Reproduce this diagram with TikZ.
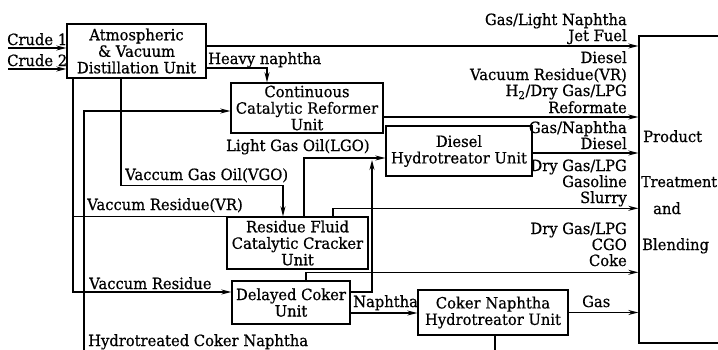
\documentclass[tikz,border=0pt]{standalone}
\usepackage{fontspec}
\setmainfont{DejaVu Serif}[FakeBold=0.6,FakeStretch=0.95]
\usetikzlibrary{arrows.meta,calc}
\newcommand\dgfont{\fontsize{15.5}{16.5}\selectfont}
\begin{document}
\begin{tikzpicture}[x=1pt,y=-1pt,
  box/.style={draw,line width=1.4pt,inner sep=0pt,align=center,font=\dgfont},
  arr/.style={line width=1.3pt,-{Stealth[length=10pt,width=5pt]}},
  ln/.style={line width=1.3pt},
  lab/.style={inner sep=0pt,font=\dgfont},
]
\useasboundingbox (0,0) rectangle (718,349);
% units
\node[box,minimum width=139pt,minimum height=54pt] (atm) at (136.5,51) {Atmospheric\\\& Vacuum\\Distillation Unit};
\node[box,minimum width=152pt,minimum height=50pt] (ccr) at (307,108) {Continuous\\Catalytic Reformer\\Unit};
\node[box,minimum width=146pt,minimum height=50pt] (dht) at (459,151) {Diesel\\Hydrotreator Unit};
\node[box,minimum width=141pt,minimum height=52pt] (rfcc) at (297.5,243) {Residue Fluid\\Catalytic Cracker\\Unit};
\node[box,minimum width=118pt,minimum height=43pt] (dcu) at (291,302.5) {Delayed Coker\\Unit};
\node[box,minimum width=150pt,minimum height=45pt] (cnht) at (493,312.5) {Coker Naphtha\\Hydrotreator Unit};
\node[box,minimum width=100pt,minimum height=307pt] (prod) at (689,189.5) {};
\node[lab,anchor=base west] (p1) at (643,142) {Product};
\node[lab,anchor=base west,font=\fontsize{15}{16.5}\selectfont] (p2) at (641,187) {Treatment};
\node[lab,anchor=base west] (p3) at (653,214) {and};
\node[lab,anchor=base west] (p4) at (642,250) {Blending};
% helper coordinates
\coordinate (c1) at (8,48);
\coordinate (c2) at (8,69);
\coordinate (vr) at ($(atm.south)+(-63.5,0)$);
\coordinate (vg) at ($(atm.south)+(-15.5,0)$);
\coordinate (hcn) at (84,352);
\coordinate (lgo) at (372,160);
% connectors
\draw[arr] (c1) -- (c1 -| atm.west);
\draw[arr] (c2) -- (c2 -| atm.west);
\draw[arr] ([yshift=5pt]atm.east) -- ([yshift=5pt]atm.east -| prod.west);
\draw[arr] ([yshift=-17pt]atm.east) -| ([xshift=-40pt]ccr.north);
\draw[arr] (vg) -- ++(0,107) -| ([xshift=-14.5pt]rfcc.north);
\draw[arr] (vr) |- ([yshift=10.5pt]dcu.west);
\draw[ln] (vr |- rfcc.north west) -- (rfcc.north west);
\draw[arr] (hcn) |- ([yshift=-3pt]ccr.west);
\draw[ln] ([xshift=2pt]cnht.south) -- ++(0,20);
\draw[arr] ([yshift=-9pt]ccr.east) -- ([yshift=-9pt]ccr.east -| prod.west);
\draw[arr] ([xshift=6.5pt]rfcc.north) |- ([yshift=-7pt]dht.west);
\draw[arr] ([yshift=10.5pt]dcu.east) -| (lgo);
\draw[arr] ([yshift=-2pt]dht.east) -- ([yshift=-2pt]dht.east -| prod.west);
\draw[arr] ([xshift=35.5pt]rfcc.north) |- ($(prod.west |- rfcc.north)+(0,-8)$);
\draw[arr] ([xshift=15pt]dcu.north) |- ($(prod.west |- dcu.north)+(0,-8)$);
\draw[arr] ([yshift=-10.5pt]dcu.east) -- ([yshift=-10.5pt]dcu.east -| cnht.west);
\draw[arr] (cnht.east) -- (cnht.east -| prod.west);
% left labels
\node[lab,anchor=base west] at (7,45) {Crude 1};
\node[lab,anchor=base west] at (7,66) {Crude 2};
\node[lab,anchor=base west] at (208,64) {Heavy naphtha};
\node[lab,anchor=base west] at (226,151) {Light Gas Oil(LGO)};
\node[lab,anchor=base west] at (125,180) {Vaccum Gas Oil(VGO)};
\node[lab,anchor=base west] at (87,210) {Vaccum Residue(VR)};
\node[lab,anchor=base west] at (89,289) {Vaccum Residue};
\node[lab,anchor=base west] at (353,307) {Naphtha};
\node[lab,anchor=base west] at (582,307) {Gas};
\node[lab,anchor=base west] at (88,346) {Hydrotreated Coker Naphtha};
% right labels
\node[lab,anchor=base east] at (627,25) {Gas/Light Naphtha};
\node[lab,anchor=base east] at (627,41) {Jet Fuel};
\node[lab,anchor=base east] at (627,63) {Diesel};
\node[lab,anchor=base east] at (627,80) {Vacuum Residue(VR)};
\node[lab,anchor=base east] at (627,96) {H\textsubscript{2}/Dry Gas/LPG};
\node[lab,anchor=base east] at (627,113) {Reformate};
\node[lab,anchor=base east] at (627,133) {Gas/Naphtha};
\node[lab,anchor=base east] at (627,149) {Diesel};
\node[lab,anchor=base east] at (627,171) {Dry Gas/LPG};
\node[lab,anchor=base east] at (627,187) {Gasoline};
\node[lab,anchor=base east] at (627,203) {Slurry};
\node[lab,anchor=base east] at (627,234) {Dry Gas/LPG};
\node[lab,anchor=base east] at (627,250) {CGO};
\node[lab,anchor=base east] at (627,266) {Coke};
\end{tikzpicture}
\end{document}
